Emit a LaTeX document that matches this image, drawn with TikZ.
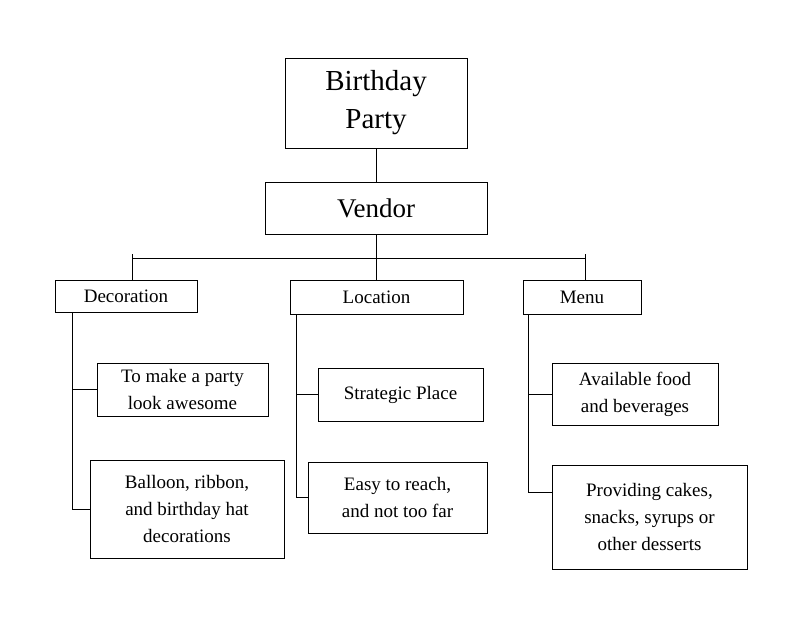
\documentclass[tikz,border=0pt]{standalone}
\usepackage{fontspec}
\setmainfont{Liberation Serif}
\begin{document}
\begin{tikzpicture}[x=1pt,y=-1pt,
  box/.style={draw,line width=0.8pt,inner sep=0pt,align=center,font=\fontsize{19}{27}\selectfont},
  ln/.style={line width=0.8pt}]
\useasboundingbox (0,0) rectangle (800,643);
\node[box,minimum width=182pt,minimum height=90pt,font=\fontsize{29}{38}\selectfont] (bp) at (376,103) {Birthday\\Party};
\node[box,minimum width=222pt,minimum height=52pt,font=\fontsize{27}{32}\selectfont] (ven) at (376,208) {Vendor};
\node[box,minimum width=142pt,minimum height=32pt] (dec) at (126,296) {Decoration};
\node[box,minimum width=173pt,minimum height=34pt] (loc) at (376.5,297) {Location};
\node[box,minimum width=118pt,minimum height=34pt] (men) at (582,297) {Menu};
\node[box,minimum width=171pt,minimum height=53pt] (aw) at (182.5,389.5) {To make a party\\look awesome};
\node[box,minimum width=194pt,minimum height=98pt] (bal) at (187,509) {Balloon, ribbon,\\and birthday hat\\decorations};
\node[box,minimum width=165pt,minimum height=53pt] (sp) at (400.5,394.5) {Strategic Place};
\node[box,minimum width=179pt,minimum height=71pt] (ez) at (397.5,497.5) {Easy to reach,\\and not too far};
\node[box,minimum width=166pt,minimum height=62pt] (av) at (635,394) {Available food\\and beverages};
\node[box,minimum width=195pt,minimum height=104pt] (pr) at (649.5,517) {Providing cakes,\\snacks, syrups or\\other desserts};
\draw[ln] (bp) -- (ven);
\coordinate (bm) at (376,258);
\coordinate (bl) at (132,258);
\coordinate (br) at (585,258);
\draw[ln] (ven) -- (bm);
\draw[ln] (bl) -- (br);
\draw[ln] (bl |- 0,254) -- (bl |- dec.north);
\draw[ln] (bm) -- (bm |- loc.north);
\draw[ln] (br |- 0,254) -- (br |- men.north);
\coordinate (d0) at (72,312);
\draw[ln] (d0) |- (bal.west);
\draw[ln] (d0 |- aw.west) -- (aw.west);
\coordinate (l0) at (296,314);
\draw[ln] (l0) |- (ez.west);
\draw[ln] (l0 |- sp.west) -- (sp.west);
\coordinate (m0) at (528,314);
\draw[ln] (m0) -- (528,492) -- (pr.west |- 0,492);
\draw[ln] (m0 |- av.west) -- (av.west);
\end{tikzpicture}
\end{document}
